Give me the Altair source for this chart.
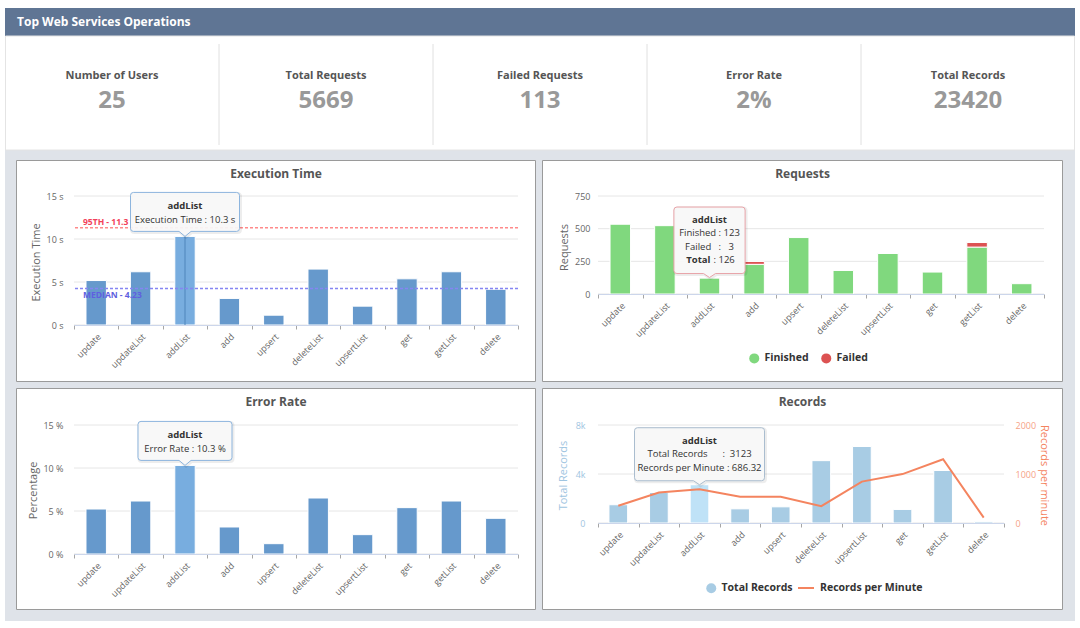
import altair as alt
import pandas as pd

# ------------------------------------------------------------------ data
operations = ["update", "updateList", "addList", "add", "upsert",
              "deleteList", "upsertList", "get", "getList", "delete"]

execution_time = [5.17, 6.19, 10.3, 3.09, 1.14, 6.5, 2.19, 5.37, 6.19, 4.15]   # seconds
error_rate = [5.23, 6.16, 10.3, 3.14, 1.2, 6.51, 2.25, 5.39, 6.16, 4.15]       # percent
finished = [534, 523, 123, 227, 432, 180, 310, 168, 359, 79]
failed = [0, 0, 3, 22, 0, 0, 0, 0, 35, 0]
total_records = [1490, 2490, 3123, 1155, 1320, 5090, 6245, 1105, 4285, 115]
records_per_minute = [352, 623, 686.32, 536, 536, 344, 845, 998, 1300, 110]

percentile_95 = 11.3
median_time = 4.23
focus_op = "addList"          # operation detailed in the callouts

kpi_names = ["Number of Users", "Total Requests", "Failed Requests", "Error Rate", "Total Records"]
kpi_values = ["25", "5669", "113", "2%", "23420"]

time_ticks = [0, 5, 10, 15]
rate_ticks = [0, 5, 10, 15]
request_ticks = [0, 250, 500, 750]
record_ticks = [0, 4000, 8000]
rpm_ticks = [0, 1000, 2000]

# ------------------------------------------------------------------ style
FONT = "Open Sans"
PAGE_BG = "#dfe3e9"
HEADER_BG = "#5f7594"
FRAME = "#9a9a9a"
GRID = "#e6e6e6"
AXIS_LINE = "#ccd6eb"
TICK = "#a6a6a6"
LABEL = "#666666"
BLUE = "#6699cc"
BLUE_HI = "#78addf"
GREEN = "#80d87e"
RED = "#dc5252"
SKY = "#a8cce4"
SKY_HI = "#bfe2f7"
SKY_TXT = "#9fc5e1"
ORANGE = "#f4845f"
ORANGE_TXT = "#f6a286"

# plot-area sizes; the first plot area sits at ORIGIN on the page
W_LEFT, W_REQ, W_REC = 444, 446, 406
H_TALL, H_SHORT = 129, 98
ORIGIN = (74, 196)

one = pd.DataFrame({"k": [0]})


def page_rect(x1, y1, x2, y2, **style):
    ox, oy = ORIGIN
    return alt.Chart(one).mark_rect(**style).encode(
        x=alt.value(x1 - ox), x2=alt.value(x2 - ox),
        y=alt.value(y1 - oy), y2=alt.value(y2 - oy))


def page_text(x, y, text, **style):
    ox, oy = ORIGIN
    return alt.Chart(one).mark_text(baseline="middle", **style).encode(
        x=alt.value(x - ox), y=alt.value(y - oy), text=alt.value(text))


def callout_path(half_w, top, bottom=5, radius=3, notch=6):
    """Rounded tooltip box above its anchor with a pointer down to (0, 0)."""
    l, r, t, b, k = -half_w, half_w, -top, -bottom, radius
    return (f"M{l + k},{t} L{r - k},{t} Q{r},{t} {r},{t + k} L{r},{b - k} Q{r},{b} {r - k},{b} "
            f"L{notch},{b} L0,0 L{-notch},{b} L{l + k},{b} Q{l},{b} {l},{b - k} "
            f"L{l},{t + k} Q{l},{t} {l + k},{t} Z")


def callout_box(df, x, y, path, stroke):
    shadow = alt.Chart(df).mark_point(
        shape=path, size=4, filled=False, stroke="#000000", strokeOpacity=0.07,
        strokeWidth=3, opacity=1, xOffset=1, yOffset=1).encode(x=x, y=y)
    box = alt.Chart(df).mark_point(
        shape=path, size=4, filled=True, fill="#f7f7f7", fillOpacity=0.93,
        stroke=stroke, strokeWidth=1, opacity=1).encode(x=x, y=y)
    return [shadow, box]


def callout_text(df, x, y, text, dy, bold=False, dx=0, align="center"):
    return alt.Chart(df).mark_text(
        dy=dy, dx=dx, align=align, baseline="middle", fontSize=9.5,
        fontWeight="bold" if bold else "normal", color="#333333").encode(x=x, y=y, text=text)


# one shared x axis definition, repeated on every layer so the layers merge cleanly;
# zindex 1 keeps the axes above the white panel cards
X_AXIS = alt.Axis(labelAngle=-45, tickBand="extent", tickSize=4, tickColor=TICK,
                  domainColor=AXIS_LINE, labelPadding=3, labelOverlap=False, zindex=1)


def x_ops():
    return alt.X("op:N", sort=operations, title=None, axis=X_AXIS,
                 scale=alt.Scale(domain=operations, paddingInner=0, paddingOuter=0))


def y_enc(field, scale, title, axis):
    return alt.Y(field, scale=scale, title=title, axis=axis)


def grid_rules(ticks, scale, title, axis):
    return alt.Chart(pd.DataFrame({"v": ticks})).mark_rule(color=GRID).encode(
        y=y_enc("v:Q", scale, title, axis))


# ------------------------------------------------------------------ page frame, header, KPIs
panel_boxes = [
    ("Execution Time", 16.5, 160.5, 535.5, 381.5),
    ("Requests", 542.5, 160.5, 1062.5, 381.5),
    ("Error Rate", 16.5, 388.5, 535.5, 609.5),
    ("Records", 542.5, 388.5, 1062.5, 609.5),
]

decor = [
    page_rect(0, 0, 1080, 628, fill="white"),
    page_rect(5, 150, 1075, 621, fill=PAGE_BG),
    page_rect(5, 8, 1075, 36, fill=HEADER_BG),
    page_rect(5.5, 36, 1074.5, 150, fill="white", stroke="#e4e4e4", strokeWidth=1),
    page_text(17, 22, "Top Web Services Operations", align="left", fontSize=12,
              fontWeight="bold", color="white"),
]
for name, x1, y1, x2, y2 in panel_boxes:
    decor.append(page_rect(x1, y1, x2, y2, fill="white", stroke=FRAME, strokeWidth=1))
    decor.append(page_text((x1 + x2) / 2, y1 + 13.5, name, align="center", fontSize=12,
                           fontWeight="bold", color="#555555"))

kpi_df = pd.DataFrame({"name": kpi_names, "value": kpi_values})
kpi_scale = alt.Scale(domain=kpi_names, range=[5 - ORIGIN[0], 1075 - ORIGIN[0]],
                      paddingInner=0, paddingOuter=0)
kpi_x = alt.X("name:N", sort=kpi_names, scale=kpi_scale, axis=None)
kpi = alt.layer(
    alt.Chart(kpi_df).transform_filter(alt.datum.name != kpi_names[0]).mark_rule(color="#e0e0e0").encode(
        x=alt.X("name:N", sort=kpi_names, scale=kpi_scale, axis=None, bandPosition=0),
        y=alt.value(44 - ORIGIN[1]), y2=alt.value(145 - ORIGIN[1])),
    alt.Chart(kpi_df).mark_text(fontSize=11, fontWeight="bold", color="#555555", baseline="middle").encode(
        x=kpi_x, y=alt.value(75.5 - ORIGIN[1]), text="name:N"),
    alt.Chart(kpi_df).mark_text(fontSize=24, fontWeight="bold", color="#999999", baseline="middle").encode(
        x=kpi_x, y=alt.value(100.5 - ORIGIN[1]), text="value:N"),
)

BAR = dict(width={"band": 0.46}, stroke="white", strokeWidth=1)
focus_idx = operations.index(focus_op)

# ------------------------------------------------------------------ execution time
time_scale = alt.Scale(domain=[0, 15], nice=False)
TIME_AXIS = alt.Axis(values=time_ticks, labelExpr="datum.value + ' s'", labelPadding=11,
                     titleX=-38, titleY=66, zindex=1)
TIME_TITLE = "Execution Time"
exec_df = pd.DataFrame({"op": operations, "value": execution_time})
exec_focus = exec_df[exec_df.op == focus_op].assign(
    tip=lambda d: "Execution Time : " + d.value.astype(str) + " s")
exec_y = y_enc("value:Q", time_scale, TIME_TITLE, TIME_AXIS)

exec_bars = alt.Chart(exec_df).mark_bar(**BAR).encode(
    x=x_ops(), y=exec_y,
    color=alt.condition(alt.datum.op == focus_op, alt.value(BLUE_HI), alt.value(BLUE)),
)
crosshair = alt.Chart(exec_focus).mark_rule(color="#4f85bb", strokeWidth=1).encode(
    x=x_ops(), y=exec_y, y2=alt.datum(0))

ref_df = pd.DataFrame({"v": [percentile_95, median_time],
                       "label": [f"95TH - {percentile_95}", f"MEDIAN - {median_time}"]})
ref_y = y_enc("v:Q", time_scale, TIME_TITLE, TIME_AXIS)
p95_rule = alt.Chart(ref_df.iloc[[0]]).mark_rule(color="#ff8a8a", strokeDash=[3, 2], strokeWidth=1.5).encode(y=ref_y)
med_rule = alt.Chart(ref_df.iloc[[1]]).mark_rule(color="#8585f2", strokeDash=[3, 2], strokeWidth=1.5).encode(y=ref_y)
p95_text = alt.Chart(ref_df.iloc[[0]]).mark_text(align="left", baseline="middle", dy=-6, fontSize=8.5,
                                                 fontWeight="bold", color="#f2415a").encode(
    x=alt.value(9), y=ref_y, text="label:N")
med_text = alt.Chart(ref_df.iloc[[1]]).mark_text(align="left", baseline="middle", dy=6, fontSize=8.5,
                                                 fontWeight="bold", color="#5f5fe0").encode(
    x=alt.value(9), y=ref_y, text="label:N")

exec_group = alt.layer(
    grid_rules(time_ticks, time_scale, TIME_TITLE, TIME_AXIS), exec_bars, crosshair,
    p95_rule, med_rule, p95_text, med_text,
    *callout_box(exec_focus, x_ops(), exec_y, callout_path(54.5, 44), "#8db5de"),
    callout_text(exec_focus, x_ops(), exec_y, "op:N", -30, bold=True),
    callout_text(exec_focus, x_ops(), exec_y, "tip:N", -16),
)

chart_exec = alt.layer(*decor, kpi, exec_group).resolve_scale(x="independent").properties(
    width=W_LEFT, height=H_TALL)

# ------------------------------------------------------------------ requests
req_scale = alt.Scale(domain=[0, 750], nice=False)
REQ_AXIS = alt.Axis(values=request_ticks, labelPadding=8, titleX=-34, titleY=51, zindex=1)
REQ_TITLE = "Requests"
req_long = pd.DataFrame({
    "op": operations * 2,
    "status": ["Finished"] * len(operations) + ["Failed"] * len(operations),
    "requests": finished + failed,
    "stack_order": [0] * len(operations) + [1] * len(operations),
})
req_total = finished[focus_idx] + failed[focus_idx]
req_focus = pd.DataFrame({
    "op": [focus_op], "total": [req_total],
    "line1": [f"Finished : {finished[focus_idx]}"],
    "line2": [f"Failed\u00a0\u00a0 :\u00a0\u00a0 {failed[focus_idx]}"],
    "line3": [f": {req_total}"],
})
req_y = y_enc("total:Q", req_scale, REQ_TITLE, REQ_AXIS)

req_bars = alt.Chart(req_long).transform_filter(alt.datum.requests > 0).mark_bar(**BAR).encode(
    x=x_ops(),
    y=alt.Y("requests:Q", stack="zero", scale=req_scale, title=REQ_TITLE, axis=REQ_AXIS),
    color=alt.Color("status:N", scale=alt.Scale(domain=["Finished", "Failed"], range=[GREEN, RED]),
                    legend=alt.Legend(title=None, orient="none", legendX=151, legendY=157,
                                      direction="horizontal", symbolType="circle", symbolSize=100,
                                      symbolStrokeWidth=0, labelFontSize=10.5, labelFontWeight="bold",
                                      labelColor="#333333", columnPadding=12, labelOffset=5, padding=0)),
    order=alt.Order("stack_order:Q"),
)
chart_req = alt.layer(
    grid_rules(request_ticks, req_scale, REQ_TITLE, REQ_AXIS), req_bars,
    *callout_box(req_focus, x_ops(), req_y, callout_path(35.6, 70.5, bottom=4), "#e8a3a8"),
    callout_text(req_focus, x_ops(), req_y, "op:N", -57.5, bold=True),
    callout_text(req_focus, x_ops(), req_y, "line1:N", -44.5),
    callout_text(req_focus, x_ops(), req_y, "line2:N", -30.5),
    callout_text(req_focus, x_ops(), req_y, alt.value("Total"), -17.5, bold=True, dx=1, align="right"),
    callout_text(req_focus, x_ops(), req_y, "line3:N", -17.5, dx=4, align="left"),
).properties(width=W_REQ, height=H_SHORT)

# ------------------------------------------------------------------ error rate
rate_scale = alt.Scale(domain=[0, 15], nice=False)
RATE_AXIS = alt.Axis(values=rate_ticks, labelExpr="datum.value + ' %'", labelPadding=11,
                     titleX=-41, titleY=65, zindex=1)
RATE_TITLE = "Percentage"
rate_df = pd.DataFrame({"op": operations, "value": error_rate})
rate_focus = rate_df[rate_df.op == focus_op].assign(
    tip=lambda d: "Error Rate : " + d.value.astype(str) + " %")
rate_y = y_enc("value:Q", rate_scale, RATE_TITLE, RATE_AXIS)

rate_bars = alt.Chart(rate_df).mark_bar(**BAR).encode(
    x=x_ops(), y=rate_y,
    color=alt.condition(alt.datum.op == focus_op, alt.value(BLUE_HI), alt.value(BLUE)),
)
chart_rate = alt.layer(
    grid_rules(rate_ticks, rate_scale, RATE_TITLE, RATE_AXIS), rate_bars,
    *callout_box(rate_focus, x_ops(), rate_y, callout_path(47, 44), "#8db5de"),
    callout_text(rate_focus, x_ops(), rate_y, "op:N", -30, bold=True),
    callout_text(rate_focus, x_ops(), rate_y, "tip:N", -16.5),
).properties(width=W_LEFT, height=H_TALL)

# ------------------------------------------------------------------ records
rec_scale = alt.Scale(domain=[0, 8000], nice=False)
rpm_scale = alt.Scale(domain=[0, 2000], nice=False)
REC_AXIS = alt.Axis(values=record_ticks, labelPadding=13, titleX=-35, titleY=50,
                    labelColor=SKY_TXT, titleColor=SKY_TXT, zindex=1,
                    labelExpr="datum.value == 0 ? '0' : datum.value / 1000 + 'k'")
REC_TITLE = "Total Records"
rec_df = pd.DataFrame({"op": operations, "records": total_records, "rpm": records_per_minute,
                       "bar_series": "Total Records", "line_series": "Records per Minute"})
rec_focus = rec_df[rec_df.op == focus_op].assign(
    line1=lambda d: "Total Records\u00a0\u00a0\u00a0\u00a0\u00a0 :\u00a0\u00a0" + d.records.astype(str),
    line2=lambda d: "Records per Minute : " + d.rpm.astype(str))
rec_y = y_enc("records:Q", rec_scale, REC_TITLE, REC_AXIS)

rec_bars = alt.Chart(rec_df).mark_bar(**BAR).encode(
    x=x_ops(), y=rec_y,
    fill=alt.condition(alt.datum.op == focus_op, alt.value(SKY_HI),
                       alt.Fill("bar_series:N", scale=alt.Scale(domain=["Total Records"], range=[SKY]),
                                legend=alt.Legend(title=None, orient="none", legendX=108, legendY=158,
                                                  symbolType="circle", symbolSize=100, symbolStrokeWidth=0,
                                                  labelFontSize=10.5, labelFontWeight="bold",
                                                  labelColor="#333333", labelOffset=5, padding=0))),
)
rec_bar_group = alt.layer(
    grid_rules(record_ticks, rec_scale, REC_TITLE, REC_AXIS), rec_bars,
    *callout_box(rec_focus, x_ops(), rec_y, callout_path(65, 57, bottom=4), "#aabdcf"),
    callout_text(rec_focus, x_ops(), rec_y, "op:N", -43.4, bold=True),
    callout_text(rec_focus, x_ops(), rec_y, "line1:N", -30.4),
    callout_text(rec_focus, x_ops(), rec_y, "line2:N", -16.4),
)
rec_line = alt.Chart(rec_df).mark_line(strokeWidth=2).encode(
    x=x_ops(),
    y=alt.Y("rpm:Q", scale=rpm_scale, title="Records per minute",
            axis=alt.Axis(orient="right", values=rpm_ticks, format="d", labelPadding=11, zindex=1,
                          titleX=39, titleY=50, labelColor=ORANGE_TXT, titleColor=ORANGE)),
    stroke=alt.Stroke("line_series:N", scale=alt.Scale(domain=["Records per Minute"], range=[ORANGE]),
                      legend=alt.Legend(title=None, orient="none", legendX=199, legendY=154,
                                        symbolType="stroke", symbolSize=256, symbolStrokeWidth=2,
                                        labelFontSize=10.5, labelFontWeight="bold",
                                        labelColor="#333333", labelOffset=5, padding=0)),
)
chart_rec = alt.layer(rec_bar_group, rec_line).resolve_scale(y="independent").properties(
    width=W_REC, height=H_SHORT)

# ------------------------------------------------------------------ page
chart = alt.concat(
    chart_exec, chart_req, chart_rate, chart_rec,
    columns=2, spacing={"row": 100, "column": 80}, bounds="flush",
).resolve_scale(
    color="independent", fill="independent", stroke="independent",
).properties(
    padding=0, background="white",
).configure(
    font=FONT,
).configure_view(
    stroke=None,
).configure_axis(
    labelFont=FONT, titleFont=FONT, labelFontSize=9, labelColor=LABEL,
    titleFontSize=11, titleFontWeight="normal", titleColor=LABEL, grid=False,
).configure_axisY(
    domain=False, ticks=False, tickSize=0, titleAlign="center", titleBaseline="middle",
).configure_legend(
    labelFont=FONT,
)

chart.save("out.html", embed_options={"renderer": "svg", "actions": False})
